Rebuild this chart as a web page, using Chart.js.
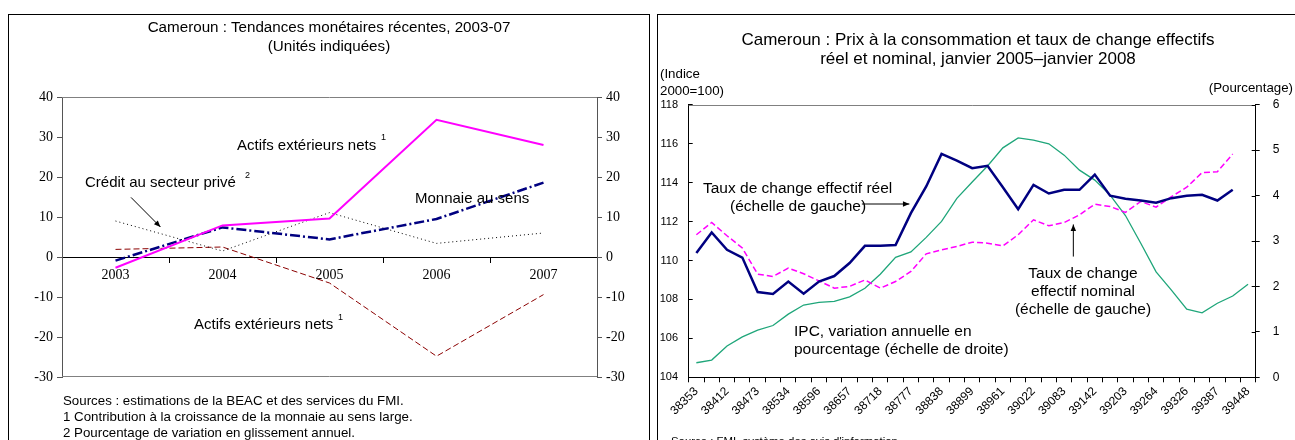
<!DOCTYPE html>
<html lang="fr">
<head>
<meta charset="utf-8">
<title>Cameroun : tendances monétaires et taux de change</title>
<script src="https://cdn.jsdelivr.net/npm/chart.js@4.4.1/dist/chart.umd.min.js"></script>
<style>
  html, body { margin: 0; padding: 0; background: #fff; }
  body { position: relative; width: 1295px; height: 440px; overflow: hidden;
         font-family: "Liberation Sans", Arial, sans-serif; color: #000; }
  .panel { position: absolute; border: 1px solid #000; box-sizing: border-box; }
  canvas { position: absolute; top: 0; }
  .txt { position: absolute; white-space: nowrap; }
</style>
</head>
<body>
<div class="panel" style="left:8px;top:14px;width:642px;height:440px"></div>
<div class="panel" style="left:657px;top:14px;width:645px;height:440px"></div>
<canvas id="monetaire" width="650" height="440" style="left:0"></canvas>
<canvas id="change" width="645" height="440" style="left:650px"></canvas>
<div id="labels"></div>
<script>
/* ---------- left chart : tendances monétaires ---------- */
const years = ["2003", "2004", "2005", "2006", "2007"];
const actifsExtContrib = [-2.7, 7.9, 9.6, 34.3, 28.0];   // rose, trait plein
const monnaieSensLarge = [-0.9, 7.4, 4.4, 9.5, 18.6];    // bleu, tiret-point
const creditPrive = [9.0, 1.5, 11.1, 3.4, 6.0];          // noir, pointillé
const actifsExtBas = [1.9, 2.5, -6.5, -24.8, -9.4];      // rouge foncé, tirets
const leftTicks = [-30, -20, -10, 0, 10, 20, 30, 40];

/* ---------- right chart : prix et taux de change ---------- */
const monthSerials = [
  "38353", "38384", "38412", "38443", "38473", "38504", "38534", "38565", "38596", "38626",
  "38657", "38687", "38718", "38749", "38777", "38808", "38838", "38869", "38899", "38930",
  "38961", "38991", "39022", "39052", "39083", "39114", "39142", "39173", "39203", "39234",
  "39264", "39295", "39326", "39356", "39387", "39417", "39448"
];
const tcer = [
  110.38, 111.44, 110.55, 110.15, 108.38, 108.28, 108.92, 108.29, 108.92, 109.2,
  109.87, 110.75, 110.76, 110.79, 112.43, 113.8, 115.47, 115.13, 114.74, 114.86,
  113.76, 112.63, 113.88, 113.44, 113.63, 113.63, 114.41, 113.33, 113.17, 113.08,
  112.97, 113.2, 113.32, 113.37, 113.08, 113.63, null
];
const tcen = [
  111.32, 111.95, 111.27, 110.64, 109.3, 109.18, 109.61, 109.32, 108.95, 108.58,
  108.67, 109.0, 108.58, 108.92, 109.44, 110.34, 110.55, 110.72, 110.94, 110.89,
  110.75, 111.32, 112.09, 111.78, 111.95, 112.34, 112.89, 112.77, 112.47, 113.03,
  112.74, 113.28, 113.76, 114.51, 114.56, 115.47, null
];
const ipc = [
  0.32, 0.38, 0.69, 0.89, 1.04, 1.14, 1.39, 1.59, 1.65, 1.67,
  1.77, 1.96, 2.27, 2.64, 2.76, 3.08, 3.43, 3.94, 4.3, 4.65,
  5.05, 5.27, 5.22, 5.14, 4.89, 4.56, 4.34, 4.01, 3.56, 2.95,
  2.32, 1.92, 1.5, 1.42, 1.63, 1.79, 2.05
];
const indexTicks = [104, 106, 108, 110, 112, 114, 116, 118];
const pctTicks = [0, 1, 2, 3, 4, 5, 6];

const SANS = "'Liberation Sans', Arial, sans-serif";
const SERIF = "'Liberation Serif', 'Times New Roman', serif";

function setTicks(list) {
  return scale => { scale.ticks = list.map(v => ({ value: v })); };
}

function arrow(ctx, x1, y1, x2, y2) {
  const ang = Math.atan2(y2 - y1, x2 - x1);
  const h = 7;
  ctx.save();
  ctx.strokeStyle = "#000";
  ctx.fillStyle = "#000";
  ctx.lineWidth = 1;
  ctx.beginPath();
  ctx.moveTo(x1, y1);
  ctx.lineTo(x2, y2);
  ctx.stroke();
  ctx.beginPath();
  ctx.moveTo(x2, y2);
  ctx.lineTo(x2 - h * Math.cos(ang - 0.4), y2 - h * Math.sin(ang - 0.4));
  ctx.lineTo(x2 - h * Math.cos(ang + 0.4), y2 - h * Math.sin(ang + 0.4));
  ctx.closePath();
  ctx.fill();
  ctx.restore();
}

const leftDecor = {
  id: "leftDecor",
  afterDraw(chart) {
    const { ctx, chartArea: a, scales } = chart;
    ctx.save();
    ctx.strokeStyle = "#808080";
    ctx.lineWidth = 1;
    ctx.beginPath();
    ctx.moveTo(a.left, Math.round(a.top) + 0.5);
    ctx.lineTo(a.right, Math.round(a.top) + 0.5);
    ctx.moveTo(a.left, Math.round(a.bottom) - 0.5);
    ctx.lineTo(a.right, Math.round(a.bottom) - 0.5);
    ctx.stroke();
    ctx.restore();
    // flèche "Crédit au secteur privé"
    arrow(ctx, scales.x.getPixelForValue(0.145), scales.y.getPixelForValue(14.9),
               scales.x.getPixelForValue(0.42), scales.y.getPixelForValue(7.5));
  }
};

new Chart(document.getElementById("monetaire"), {
  type: "line",
  data: {
    labels: years,
    datasets: [
      { label: "Actifs extérieurs nets", data: actifsExtContrib, borderColor: "#ff00ff", borderWidth: 2 },
      { label: "Monnaie au sens large", data: monnaieSensLarge, borderColor: "#000080", borderWidth: 2.5, borderDash: [10, 3, 2, 3] },
      { label: "Crédit au secteur privé", data: creditPrive, borderColor: "#000", borderWidth: 1, borderDash: [1, 3] },
      { label: "Actifs extérieurs nets (2)", data: actifsExtBas, borderColor: "#8b0000", borderWidth: 1, borderDash: [6, 3] }
    ]
  },
  options: {
    responsive: false,
    animation: false,
    layout: { padding: { left: 22, right: 13, top: 97, bottom: 63 } },
    elements: { point: { radius: 0 }, line: { tension: 0, fill: false } },
    plugins: { legend: { display: false }, tooltip: { enabled: false } },
    scales: {
      x: {
        position: { y: 0 },
        offset: true,
        grid: { drawOnChartArea: false, offset: true, tickLength: 5, color: "#000" },
        border: { color: "#000" },
        ticks: { font: { family: SERIF, size: 14 }, color: "#000", padding: 5, maxRotation: 0 }
      },
      y: {
        position: "left", min: -30, max: 40,
        afterBuildTicks: setTicks(leftTicks),
        afterFit: s => { s.width = 40; },
        grid: { drawOnChartArea: false, tickLength: 5, color: "#555" },
        border: { color: "#555" },
        ticks: { font: { family: SERIF, size: 14 }, color: "#000", padding: 4 }
      },
      y2: {
        position: "right", min: -30, max: 40,
        afterBuildTicks: setTicks(leftTicks),
        afterFit: s => { s.width = 40; },
        grid: { drawOnChartArea: false, tickLength: 5, color: "#555" },
        border: { color: "#555" },
        ticks: { font: { family: SERIF, size: 14 }, color: "#000", padding: 4 }
      }
    }
  },
  plugins: [leftDecor]
});

const rightDecor = {
  id: "rightDecor",
  afterDraw(chart) {
    const { ctx, chartArea: a, scales } = chart;
    ctx.save();
    ctx.strokeStyle = "#808080";
    ctx.lineWidth = 1;
    ctx.beginPath();
    ctx.moveTo(a.left, Math.round(a.top) + 0.5);
    ctx.lineTo(a.right, Math.round(a.top) + 0.5);
    ctx.stroke();
    // partie intérieure des graduations de droite
    ctx.strokeStyle = "#000";
    ctx.beginPath();
    pctTicks.forEach(v => {
      const py = Math.round(scales.y2.getPixelForValue(v)) + 0.5;
      ctx.moveTo(a.right - 4, py);
      ctx.lineTo(a.right, py);
    });
    ctx.stroke();
    ctx.restore();
    const x = scales.x, y = scales.y;
    arrow(ctx, x.getPixelForValue(10.8), y.getPixelForValue(112.9),
               x.getPixelForValue(13.9), y.getPixelForValue(112.9));
    arrow(ctx, x.getPixelForValue(24.6), y.getPixelForValue(110.2),
               x.getPixelForValue(24.6), y.getPixelForValue(111.85));
  }
};

new Chart(document.getElementById("change"), {
  type: "line",
  data: {
    labels: monthSerials,
    datasets: [
      { label: "Taux de change effectif réel", data: tcer, yAxisID: "y", borderColor: "#000080", borderWidth: 2.5 },
      { label: "Taux de change effectif nominal", data: tcen, yAxisID: "y", borderColor: "#ff00ff", borderWidth: 1.5, borderDash: [6, 3] },
      { label: "IPC, variation annuelle en pourcentage", data: ipc, yAxisID: "y2", borderColor: "#1fa67a", borderWidth: 1.3 }
    ]
  },
  options: {
    responsive: false,
    animation: false,
    layout: { padding: { left: 8.7, right: 9.3, top: 104.7, bottom: 12.7 } },
    elements: { point: { radius: 0 }, line: { tension: 0, fill: false } },
    plugins: { legend: { display: false }, tooltip: { enabled: false } },
    scales: {
      x: {
        offset: true,
        afterFit: s => { s.height = 50; },
        grid: { drawOnChartArea: false, offset: true, tickLength: 5, color: "#000" },
        border: { color: "#000" },
        ticks: {
          autoSkip: false, minRotation: 45, maxRotation: 45, padding: 2,
          font: { family: SANS, size: 12 }, color: "#000",
          callback(v, i) { return i % 2 === 0 ? this.getLabelForValue(v) : ""; }
        }
      },
      y: {
        position: "left", min: 104, max: 118,
        afterBuildTicks: setTicks(indexTicks),
        afterFit: s => { s.width = 30; },
        grid: { drawOnChartArea: false, tickLength: -4, color: "#000" },
        border: { color: "#000" },
        ticks: { font: { family: SANS, size: 11 }, color: "#000", padding: 14.7 }
      },
      y2: {
        position: "right", min: 0, max: 6,
        afterBuildTicks: setTicks(pctTicks),
        afterFit: s => { s.width = 30; },
        grid: { drawOnChartArea: false, tickLength: 4, color: "#000" },
        border: { color: "#000" },
        ticks: { font: { family: SANS, size: 12 }, color: "#000", padding: 13 }
      }
    }
  },
  plugins: [rightDecor]
});

/* ---------- textes ---------- */
const texts = [
  { t: "Cameroun : Tendances monétaires récentes, 2003-07", x: 329, y: 27, s: 15.2, a: "c" },
  { t: "(Unités indiquées)", x: 329, y: 46, s: 15.2, a: "c" },
  { t: "Actifs extérieurs nets", x: 237, y: 145, s: 15 },
  { t: "1", x: 381, y: 137, s: 9 },
  { t: "Crédit au secteur privé", x: 85, y: 182, s: 15 },
  { t: "2", x: 245, y: 175, s: 9 },
  { t: "Monnaie au sens", x: 415, y: 198, s: 15 },
  { t: "Actifs extérieurs nets", x: 194, y: 324, s: 15 },
  { t: "1", x: 338, y: 317, s: 9 },
  { t: "Sources : estimations de la BEAC et des services du FMI.", x: 63, y: 401, s: 13.3 },
  { t: "1 Contribution à la croissance de la monnaie au sens large.", x: 63, y: 417, s: 13.3 },
  { t: "2 Pourcentage de variation en glissement annuel.", x: 63, y: 433, s: 13.3 },

  { t: "Cameroun : Prix à la consommation et taux de change effectifs", x: 978, y: 40, s: 17, a: "c" },
  { t: "réel et nominal, janvier 2005–janvier 2008", x: 978, y: 59, s: 17, a: "c" },
  { t: "(Indice", x: 660, y: 74, s: 13.3 },
  { t: "2000=100)", x: 660, y: 91, s: 13.3 },
  { t: "(Pourcentage)", x: 1293, y: 88, s: 13.3, a: "r" },
  { t: "Taux de change effectif réel", x: 703, y: 187, s: 15.5 },
  { t: "(échelle de gauche)", x: 730, y: 205, s: 15.5 },
  { t: "Taux de change", x: 1083, y: 272, s: 15.5, a: "c" },
  { t: "effectif nominal", x: 1083, y: 290, s: 15.5, a: "c" },
  { t: "(échelle de gauche)", x: 1083, y: 308, s: 15.5, a: "c" },
  { t: "IPC, variation annuelle en", x: 794, y: 330, s: 15.5 },
  { t: "pourcentage (échelle de droite)", x: 794, y: 348, s: 15.5 },
  { t: "Source : FMI, système des avis d'information.", x: 671, y: 441, s: 11.4 }
];

const holder = document.getElementById("labels");
texts.forEach(d => {
  const el = document.createElement("div");
  el.className = "txt";
  el.textContent = d.t;
  el.style.fontSize = d.s + "px";
  el.style.lineHeight = Math.round(d.s * 1.2) + "px";
  el.style.top = (d.y - d.s * 0.6) + "px";
  el.style.left = d.x + "px";
  if (d.a === "c") el.style.transform = "translateX(-50%)";
  if (d.a === "r") el.style.transform = "translateX(-100%)";
  holder.appendChild(el);
});
</script>
</body>
</html>
